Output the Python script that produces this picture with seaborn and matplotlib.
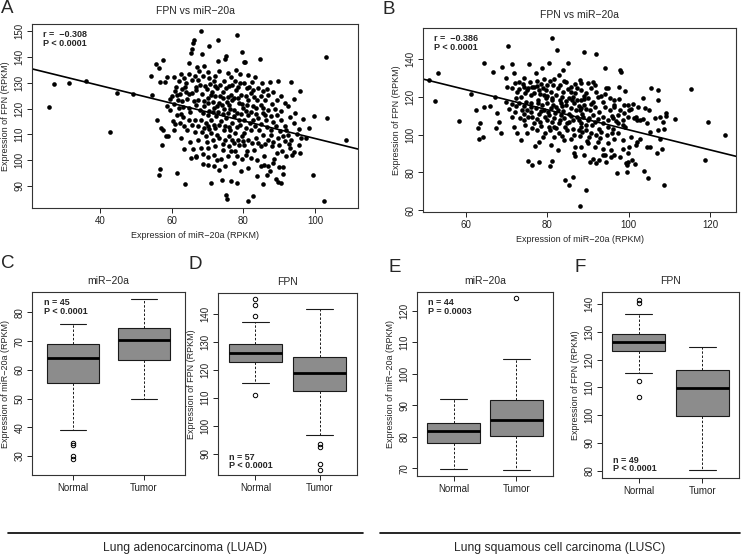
import matplotlib
matplotlib.use("Agg")
import matplotlib.pyplot as plt
from matplotlib.lines import Line2D
import numpy as np
import pandas as pd
import seaborn as sns

# ---------------- data ----------------
# Panel A (LUAD): miR-20a (x) vs FPN (y)
luad_points = [
    (25.8,120.7),(27.1,129.6),(31.4,129.9),(36.2,130.8),(42.8,111.1),(44.6,126.1),(49.3,125.8),(54.6,125.3),
    (54.2,132.4),(55.5,137.1),(56.4,135.7),(57.5,138.6),(56.0,115.4),(57.1,112.3),(57.5,111.8),(57.2,105.7),
    (56.6,96.7),(56.4,94.3),(56.7,130.1),(58.1,130.3),(58.8,132.1),(58.6,120.8),(58.3,109.3),(59.1,109.5),
    (59.4,123.6),(60.0,124.9),(59.5,119.5),(60.5,132.1),(60.3,115.0),(60.7,111.8),(61.2,128.5),(61.4,125.3),
    (61.0,126.6),(61.7,123.4),(61.9,120.1),(61.4,117.6),(61.5,95.1),(62.5,133.4),(62.8,127.5),(62.5,108.6),
    (63.0,123.0),(63.2,116.9),(63.4,113.4),(63.8,90.7),(63.9,126.3),(64.1,129.8),(64.3,123.8),(64.7,120.1),
    (64.7,137.5),(64.9,115.6),(65.0,106.9),(65.4,101.0),(65.3,141.6),(65.7,142.9),(66.0,145.5),(66.2,146.5),
    (65.8,131.1),(65.7,126.0),(66.1,122.9),(66.0,104.4),(66.6,115.7),(66.6,111.1),(66.9,101.3),(66.4,132.4),
    (66.7,128.5),(66.8,121.5),(62.6,117.9),
    (68.2,150.1),(78.2,148.6),(72.8,146.5),(70.4,144.3),(68.4,140.9),(79.7,141.9),(80.1,138.0),(80.5,137.9),
    (84.6,139.3),(103.1,139.8),(75.2,140.4),(74.9,139.1),(72.8,138.3),(69.1,136.5),(67.1,136.2),(75.6,133.7),
    (73.2,134.7),(79.2,133.3),(83.3,132.1),(87.3,130.1),(89.8,130.6),(93.3,130.1),(95.7,126.9),(94.1,123.8),
    (99.8,117.0),(103.3,116.5),(108.7,108.0),(92.5,121.1),(94.5,118.3),(95.6,112.2),(96.1,108.6),(97.5,108.7),
    (95.4,106.0),(95.9,102.6),(94.2,103.3),(93.6,102.2),(92.0,101.8),(91.0,97.3),(90.0,97.4),(91.2,94.7),
    (89.1,92.8),(90.5,91.1),(89.6,91.5),(99.5,94.3),(102.5,84.2),(81.2,84.3),(82.7,86.1),(75.1,86.4),
    (75.4,84.8),(70.9,91.0),(74.1,92.5),(76.5,91.9),(78.2,91.3),(79.3,95.8),(81.2,97.0),(85.4,90.9),
    (86.6,94.3),(83.8,93.8),(84.8,97.7),(85.7,98.3),(86.9,97.9),(88.6,100.3),(85.9,101.5),(89.4,102.6),
    (87.9,105.4),(85.0,105.4),(83.0,104.1),(81.0,103.5),(79.5,100.3),(77.5,99.0),(75.6,101.5),(74.9,97.7),
    (73.8,100.3),(73.3,96.1),(71.9,97.7),(70.0,98.1),(68.7,98.7),(66.8,101.5),(71.9,102.2),(72.0,105.4),
    (70.0,104.8),(68.1,104.8),(67.3,108.0),(69.5,109.5),(71.0,110.5),(72.6,109.9),(74.2,106.4),(75.9,109.3),
    (76.7,108.0),(76.3,111.8),(77.6,110.5),(78.6,108.0),(79.5,109.3),(80.3,110.5),(81.3,108.0),(82.1,111.8),
    (83.5,108.6),(84.5,111.8),(85.4,109.9),(86.8,108.0),(87.8,111.8),(89.6,108.6),(91.0,109.3),(91.6,107.3),
    (92.4,109.9),(93.3,108.0),(92.0,111.8),(89.1,113.1),(86.3,115.7),(87.7,117.0),(88.8,119.8),(87.0,119.3),
    (85.4,118.3),(84.0,116.3),(82.6,115.7),(81.2,117.6),(80.3,115.7),(78.9,115.7),(77.5,117.0),(76.7,114.4),
    (75.2,116.3),(73.8,115.0),(72.4,117.0),(71.0,115.7),(69.6,114.4),(68.2,115.7),(67.3,113.1),(67.8,119.5),
    (69.1,120.8),(70.5,118.9),(71.9,120.2),(73.3,122.1),(74.6,119.8),(76.1,121.5),(77.5,119.5),(78.8,122.1),
    (80.0,120.2),(81.3,123.4),(82.6,121.1),(83.8,123.4),(84.9,121.5),(86.0,123.4),(86.8,125.3),(85.4,126.6),
    (84.0,127.9),(82.1,125.9),(80.9,127.9),(79.3,125.3),(77.9,127.2),(76.6,125.3),(75.2,127.9),(74.2,126.2),
    (72.6,127.9),(71.2,126.2),(69.8,127.5),(68.4,125.7),(66.9,127.2),(67.4,123.4),(70.2,124.0),(71.5,122.7),
    (74.4,124.0),(76.9,129.2),(77.6,130.5),(79.0,129.8),(80.3,129.8),(81.7,128.5),(71.9,130.5),(70.5,131.7),
    (68.7,132.4),(67.3,131.1),(74.5,130.5),(98.4,112.5),(94.2,114.4),(90.5,115.7),(91.5,113.4),(87.8,109.9),
    (70.0,113.1),(72.2,112.5),(74.6,111.8),(77.8,103.5),(75.9,105.4),(78.8,106.0),(80.3,106.0),
    (67.9,129.0),(69.3,128.8),(70.8,129.3),(72.1,128.9),(73.6,129.2),(75.9,128.6),(78.4,128.2),(82.8,127.0),
    (70.9,125.1),(72.0,125.0),(73.5,124.8),(75.7,124.5),(77.3,124.2),(78.5,123.9),(80.6,124.8),(83.0,124.3),
    (84.9,124.9),(68.9,122.8),(70.0,122.0),(72.6,121.0),(74.0,121.4),(75.4,122.6),(76.8,123.1),(79.6,121.8),
    (81.0,121.4),(83.5,120.3),(85.6,120.1),(87.9,121.8),(68.6,118.2),(70.0,117.4),(71.4,118.5),(73.0,118.7),
    (74.2,117.9),(75.8,118.1),(76.4,119.9),(78.2,118.4),(79.3,117.7),(80.8,119.0),(82.1,118.8),(83.6,118.0),
    (86.0,117.5),(89.5,117.6),(90.4,118.9),(69.1,112.6),(70.4,111.9),(71.7,113.5),(73.2,113.7),(74.9,113.3),
    (76.0,112.9),(78.2,112.7),(79.2,113.6),(80.7,112.4),(81.9,114.2),(83.2,113.3),(85.0,113.9),(86.6,112.9),
    (88.4,114.8),(90.2,111.2),(68.4,110.9),(73.3,108.7),(75.0,107.7),(77.3,106.7),(80.0,107.3),(82.5,106.5),
    (84.2,106.8),(86.1,106.4),(88.3,107.1),(90.0,105.8),(92.7,106.2),(69.8,106.9),(71.5,107.8),(62.0,130.5),
    (63.5,131.9),(64.9,133.5),(63.7,128.4),(62.2,125.8),(64.9,125.5),(63.1,120.7),(65.1,118.8),(60.6,121.7),
    (62.3,114.5),(64.3,111.7),(65.8,113.8),(61.0,113.9),(63.5,104.2),(67.6,134.6),(70.2,134.0),(72.1,132.6),
    (76.5,132.2),(78.0,134.9),(81.3,133.0),(82.4,130.4),(85.2,129.7),(86.5,127.7),(88.3,126.2),(90.4,125.0),
    (91.6,122.3),(89.3,123.4),(93.0,116.6),(96.6,116.0),(94.9,110.0),(93.1,104.7),(90.8,103.5),(88.2,98.9),
    (87.4,96.0),(83.8,100.0),(82.2,101.0),(80.6,101.9),(78.3,101.8),(76.6,103.4),(74.2,103.8),(72.6,100.0),
    (70.2,101.2),(68.8,102.5),
]

# Panel B (LUSC): miR-20a (x) vs FPN (y)
lusc_points = [
    (50.9,128.9),(53.1,132.4),(52.4,117.5),(58.3,107.3),(61.3,121.4),(62.4,112.9),(63.5,105.9),(63.0,103.7),
    (63.2,97.4),(64.2,98.8),(64.4,114.7),(66.0,115.0),(67.0,120.0),(67.4,103.7),(68.0,106.8),(67.7,111.6),
    (68.6,100.6),(64.5,137.7),(66.7,132.9),(70.3,146.9),(68.9,135.6),(69.7,117.4),(69.7,129.7),(70.0,125.3),
    (71.2,137.3),(71.8,132.4),(71.4,124.5),(70.5,113.4),(71.3,109.4),(71.8,104.1),(72.2,119.1),(72.6,100.6),
    (73.4,97.0),(73.8,112.9),(73.0,128.0),(74.2,129.7),(74.2,107.6),(75.0,123.6),(75.5,137.2),(75.2,85.9),
    (76.3,83.8),(75.9,116.5),(76.3,109.4),(76.7,125.3),(76.9,93.8),(77.1,132.4),(77.5,102.3),(77.9,85.5),
    (77.6,118.2),(78.4,126.7),(78.7,135.0),(79.0,98.8),(79.2,112.9),(79.6,123.6),(80.0,107.6),(80.4,137.7),
    (80.6,83.4),(80.8,94.4),(81.1,151.3),(81.2,118.2),(81.2,86.1),(81.6,129.2),(81.6,104.1),(82.1,114.7),
    (82.3,144.8),(82.5,124.4),(82.9,100.6),(82.5,91.7),(83.3,110.2),(83.5,120.0),(83.8,134.2),(84.1,128.5),
    (84.0,97.0),(84.3,75.8),(84.5,115.6),(84.9,105.9),(85.1,138.1),(85.4,73.2),(85.8,122.7),(85.9,125.3),
    (86.4,77.6),(86.6,90.0),(86.7,93.5),(86.9,88.6),(87.0,112.9),(87.4,118.2),(87.8,102.3),(88.1,128.9),
    (72.6,122.7),(73.4,120.0),(74.7,117.4),(75.9,120.9),(77.1,113.8),(77.9,111.1),(78.7,115.6),(79.6,119.1),
    (80.4,110.2),(80.8,113.8),(81.6,108.5),(82.5,112.9),(84.1,108.5),(85.3,111.1),(86.2,107.6),(87.2,109.4),
    (88.2,113.8),(86.6,116.5),(85.3,119.1),(83.3,116.5),(82.1,120.9),(80.8,122.7),(80.0,126.2),(79.2,120.9),
    (77.9,123.6),(76.3,125.3),(74.2,125.3),(73.0,116.5),(75.0,112.9),(76.7,105.9),(78.3,106.8),(80.4,104.1),
    (82.9,105.9),(84.9,102.3),(86.6,99.7),(88.2,105.9),(87.4,124.4),(84.7,127.9),(82.9,131.5),(86.2,120.0),
    (87.9,62.2),
    (89.1,143.9),(91.9,142.8),(94.1,135.0),(97.9,134.2),(98.1,133.3),(105.6,124.8),(107.1,123.4),(115.3,123.9),
    (119.5,106.8),(123.8,99.7),(118.8,86.6),(111.4,108.0),(109.1,109.9),(109.3,111.2),(108.7,102.7),(108.1,92.6),
    (107.0,90.0),(108.7,73.5),(104.8,76.9),(103.7,80.8),(89.6,70.7),(99.5,80.2),(99.4,84.7),(99.8,85.5),
    (97.2,79.9),(101.6,84.3),(103.5,119.1),(102.3,114.7),(101.1,116.1),(100.0,112.9),(101.3,108.5),(101.9,109.1),
    (102.7,107.6),(103.5,108.0),(104.4,105.9),(104.9,112.9),(105.2,101.4),(107.2,102.3),(107.7,97.9),(104.4,93.5),
    (102.9,97.9),(102.1,96.1),(100.5,98.8),(100.2,93.5),(99.8,90.0),(98.6,92.6),(97.8,88.2),(96.5,89.0),
    (95.7,91.7),(95.7,88.2),(94.1,89.0),(92.8,86.4),(92.0,85.0),(91.2,87.3),(90.4,85.5),(89.1,89.0),
    (88.3,93.5),(90.0,95.3),(91.6,93.5),(92.4,96.1),(93.7,92.6),(94.9,95.3),(96.5,97.9),(97.4,100.6),
    (98.6,97.0),(99.0,104.1),(97.4,105.9),(96.1,103.2),(94.9,104.1),(93.3,101.4),(92.0,99.7),(90.8,100.6),
    (89.5,102.3),(88.3,104.1),(88.7,109.4),(89.9,107.6),(91.2,110.3),(92.4,108.0),(93.7,109.4),(94.9,107.6),
    (96.1,108.5),(97.4,110.3),(98.6,107.6),(99.8,109.4),(97.9,112.9),(96.5,114.7),(95.3,112.9),(94.1,114.7),
    (92.8,112.1),(91.6,114.7),(90.4,112.9),(89.1,115.6),(87.9,112.9),(88.3,118.2),(90.0,119.1),(91.2,117.4),
    (92.4,120.0),(93.7,117.4),(95.3,119.1),(96.5,118.2),(97.6,118.6),(98.8,115.6),(100.5,113.4),(88.3,123.6),
    (89.5,121.8),(90.8,124.4),(92.0,122.7),(93.2,120.4),(94.5,124.4),(91.2,128.0),(90.0,127.1),(88.3,127.4),
    (94.9,124.4),(97.6,125.3),(99.0,123.2),(99.8,115.6),(102.1,107.6),(106.4,108.5),(104.0,113.8),(107.7,109.4),
    (108.5,106.8),(107.2,118.2),(105.2,93.5),(101.9,94.4),(100.7,86.4),(99.7,83.8),(94.5,85.5),(93.7,89.0),
    (72.0,127.1),(73.9,126.8),(75.7,127.7),(77.4,128.6),(79.1,129.3),(80.7,128.4),(83.0,126.4),(85.0,124.0),
    (86.9,126.7),(72.9,124.1),(75.3,124.9),(77.5,125.6),(79.0,124.9),(81.5,126.0),(83.9,122.4),(86.7,122.1),
    (88.9,120.6),(74.6,121.8),(76.6,122.0),(78.3,121.2),(80.0,120.3),(81.2,119.4),(83.1,118.4),(84.7,117.6),
    (86.0,118.1),(88.9,118.9),(90.7,116.0),(71.3,116.3),(72.4,114.9),(74.2,115.3),(76.0,114.5),(77.8,116.5),
    (79.9,116.8),(81.4,115.9),(83.6,114.9),(85.7,114.1),(87.7,115.0),(89.6,113.6),(72.0,111.8),(74.2,110.9),
    (76.0,111.7),(78.5,112.4),(80.2,111.8),(81.9,111.4),(83.8,112.2),(85.9,109.7),(88.4,111.1),(90.3,109.0),
    (73.3,108.8),(75.2,109.3),(77.4,108.3),(79.3,109.5),(81.2,106.6),(83.2,107.6),(85.2,106.5),(87.7,107.7),
    (89.6,105.2),(91.6,106.6),(74.5,104.8),(76.3,103.4),(78.4,104.4),(80.6,102.3),(82.0,103.3),(84.3,104.0),
    (86.4,102.9),(88.6,101.5),(90.2,98.9),(92.6,103.0),(79.5,101.0),(81.7,98.5),(83.6,99.4),(85.7,97.9),
    (87.9,99.1),(89.8,96.5),(93.0,98.0),(94.6,99.8),(96.0,101.0),(91.0,105.0),(93.8,106.3),(95.8,110.0),
    (97.0,107.4),(98.5,104.9),(96.3,115.6),(98.9,111.3),(94.1,121.3),(91.8,126.1),(78.0,96.0),(75.0,101.0),
]

# least-squares lines as drawn in the reference (slope, intercept)
luad_fit = (-0.341, 142.5)
lusc_fit = (-0.531, 155.6)

# Box panels: [whislo, q1, median, q3, whishi] and outliers
groups = ["Normal", "Tumor"]
c_normal = [39.0, 55.5, 64.2, 69.0, 75.9]; c_normal_out = [34.6, 34.0, 30.0, 28.8]
c_tumor = [49.8, 63.4, 70.5, 74.4, 84.5];  c_tumor_out = []
d_normal = [115.4, 122.9, 126.2, 129.4, 137.1]; d_normal_out = [145.5, 143.3, 139.4, 111.1]
d_tumor = [96.8, 112.3, 118.8, 124.6, 141.9];   d_tumor_out = [93.5, 92.3, 86.3, 84.2]
e_normal = [69.7, 78.0, 82.0, 84.5, 92.0];  e_normal_out = []
e_tumor = [69.5, 80.4, 85.4, 91.6, 104.8];  e_tumor_out = [124.0]
f_normal = [115.4, 123.2, 126.5, 129.2, 136.6]; f_normal_out = [141.6, 140.4, 112.4, 106.5]
f_tumor = [80.4, 99.8, 109.7, 116.3, 124.6];    f_tumor_out = []

# ---------------- styling ----------------
sns.set_theme(style="white")
plt.rcParams["font.family"] = ["Liberation Sans Narrow", "Liberation Sans", "DejaVu Sans"]
plt.rcParams["axes.unicode_minus"] = True

W, H = 746, 556
fig = plt.figure(figsize=(W / 100, H / 100), dpi=100)
fig.patch.set_facecolor("white")


def add_ax(l, r, t, b):
    return fig.add_axes([l / W, 1 - b / H, (r - l) / W, (b - t) / H])


def ftext(x, y, s, **kw):
    fig.text(x / W, 1 - y / H, s, **kw)


def style_ax(ax):
    for sp in ax.spines.values():
        sp.set_color("#333333")
        sp.set_linewidth(0.8)
    ax.tick_params(direction="out", length=3.5, width=0.7, colors="#222222",
                   labelsize=7, pad=2, bottom=True, left=True)
    for t in ax.get_yticklabels():
        t.set_rotation(90)
        t.set_va("center")
    ax.set_facecolor("white")


MINUS = "\u2212"


def scatter_panel(ax, pts, fit, xlim, ylim, xticks, yticks, title, stat):
    df = pd.DataFrame(pts, columns=["mir", "fpn"])
    sns.scatterplot(data=df, x="mir", y="fpn", ax=ax, color="black", s=11,
                    linewidth=0, legend=False)
    xs = np.array(xlim)
    ax.plot(xs, fit[1] + fit[0] * xs, color="black", lw=1.2)
    ax.set_xlim(*xlim)
    ax.set_ylim(*ylim)
    ax.set_xticks(xticks)
    ax.set_yticks(yticks)
    ax.set_xlabel(f"Expression of miR{MINUS}20a (RPKM)", fontsize=6.5, labelpad=4)
    ax.set_ylabel("Expression of FPN (RPKM)", fontsize=6.5, labelpad=3)
    ax.set_title(title, fontsize=7.5, pad=7)
    ax.text(0.035, 0.965, stat, transform=ax.transAxes, ha="left", va="top",
            fontsize=6.5, fontweight="bold", linespacing=0.95)
    style_ax(ax)


axA = add_ax(32, 358, 24, 208)
scatter_panel(axA, luad_points, luad_fit, (21.0, 112.0), (81.5, 152.7),
              [40, 60, 80, 100], [90, 100, 110, 120, 130, 140, 150],
              f"FPN vs miR{MINUS}20a", f"r =  {MINUS}0.308\nP < 0.0001")

axB = add_ax(423, 736, 28, 212)
scatter_panel(axB, lusc_points, lusc_fit, (49.4, 126.4), (59.0, 156.4),
              [60, 80, 100, 120], [60, 80, 100, 120, 140],
              f"FPN vs miR{MINUS}20a", f"r =  {MINUS}0.386\nP < 0.0001")


def box_panel(ax, normal, nout, tumor, tout, ylim, yticks, title, ylabel, stat, stat_top, width):
    stats = []
    for lab, v, out in ((groups[0], normal, nout), (groups[1], tumor, tout)):
        stats.append(dict(label=lab, whislo=v[0], q1=v[1], med=v[2], q3=v[3],
                          whishi=v[4], fliers=out))
    ax.bxp(stats, positions=[1, 2], widths=width, capwidths=width / 2, patch_artist=True,
           boxprops=dict(facecolor="#8c8c8c", edgecolor="#1a1a1a", linewidth=0.8),
           medianprops=dict(color="black", linewidth=2.0),
           whiskerprops=dict(color="#1a1a1a", linewidth=0.7, linestyle=(0, (2.5, 1.8))),
           capprops=dict(color="#1a1a1a", linewidth=0.8),
           flierprops=dict(marker="o", markerfacecolor="none", markeredgecolor="black",
                           markersize=3.2, markeredgewidth=0.7))
    ax.set_xlim(0.42, 2.58)
    ax.set_ylim(*ylim)
    ax.set_yticks(yticks)
    ax.set_xticks([1, 2])
    ax.set_xticklabels(groups)
    ax.set_title(title, fontsize=7.5, pad=6)
    ax.set_ylabel(ylabel, fontsize=6.5, labelpad=3)
    if stat_top:
        ax.text(0.08, 0.965, stat, transform=ax.transAxes, ha="left", va="top",
                fontsize=6.5, fontweight="bold", linespacing=0.95)
    else:
        ax.text(0.08, 0.025, stat, transform=ax.transAxes, ha="left", va="bottom",
                fontsize=6.5, fontweight="bold", linespacing=0.95)
    style_ax(ax)


axC = add_ax(32, 185, 292, 475)
box_panel(axC, c_normal, c_normal_out, c_tumor, c_tumor_out, (23.4, 87.1),
          [30, 40, 50, 60, 70, 80], f"miR{MINUS}20a", f"Expression of miR{MINUS}20a (RPKM)",
          "n = 45\nP < 0.0001", True, 0.74)

axD = add_ax(218, 357, 293, 475)
box_panel(axD, d_normal, d_normal_out, d_tumor, d_tumor_out, (82.3, 147.6),
          [90, 100, 110, 120, 130, 140], "FPN", "Expression of FPN (RPKM)",
          "n = 57\nP < 0.0001", False, 0.82)

axE = add_ax(417, 553, 292, 476)
box_panel(axE, e_normal, e_normal_out, e_tumor, e_tumor_out, (67.6, 126.0),
          [70, 80, 90, 100, 110, 120], f"miR{MINUS}20a", f"Expression of miR{MINUS}20a (RPKM)",
          "n = 44\nP = 0.0003", True, 0.84)

axF = add_ax(602, 739, 292, 478)
box_panel(axF, f_normal, f_normal_out, f_tumor, f_tumor_out, (77.4, 144.4),
          [80, 90, 100, 110, 120, 130, 140], "FPN", "Expression of FPN (RPKM)",
          "n = 49\nP < 0.0001", False, 0.84)

# panel letters
letter_kw = dict(fontsize=13.5, family=["Liberation Sans", "DejaVu Sans"], ha="left", va="top")
ftext(1, 0, "A", **letter_kw)
ftext(382, 1, "B", **letter_kw)
ftext(1, 255, "C", **letter_kw)
ftext(189, 256, "D", **letter_kw)
ftext(388, 259, "E", **letter_kw)
ftext(574, 259, "F", **letter_kw)

# bottom group labels
fig.add_artist(Line2D([8 / W, 363 / W], [1 - 533 / H] * 2, color="black", lw=1.2))
fig.add_artist(Line2D([380 / W, 740 / W], [1 - 533 / H] * 2, color="black", lw=1.2))
bottom_kw = dict(fontsize=8.7, family=["Liberation Sans", "DejaVu Sans"], ha="center", va="center")
ftext(185, 548, "Lung adenocarcinoma (LUAD)", **bottom_kw)
ftext(560, 548, "Lung squamous cell carcinoma (LUSC)", **bottom_kw)

fig.savefig("out.png", dpi=100, facecolor="white")
